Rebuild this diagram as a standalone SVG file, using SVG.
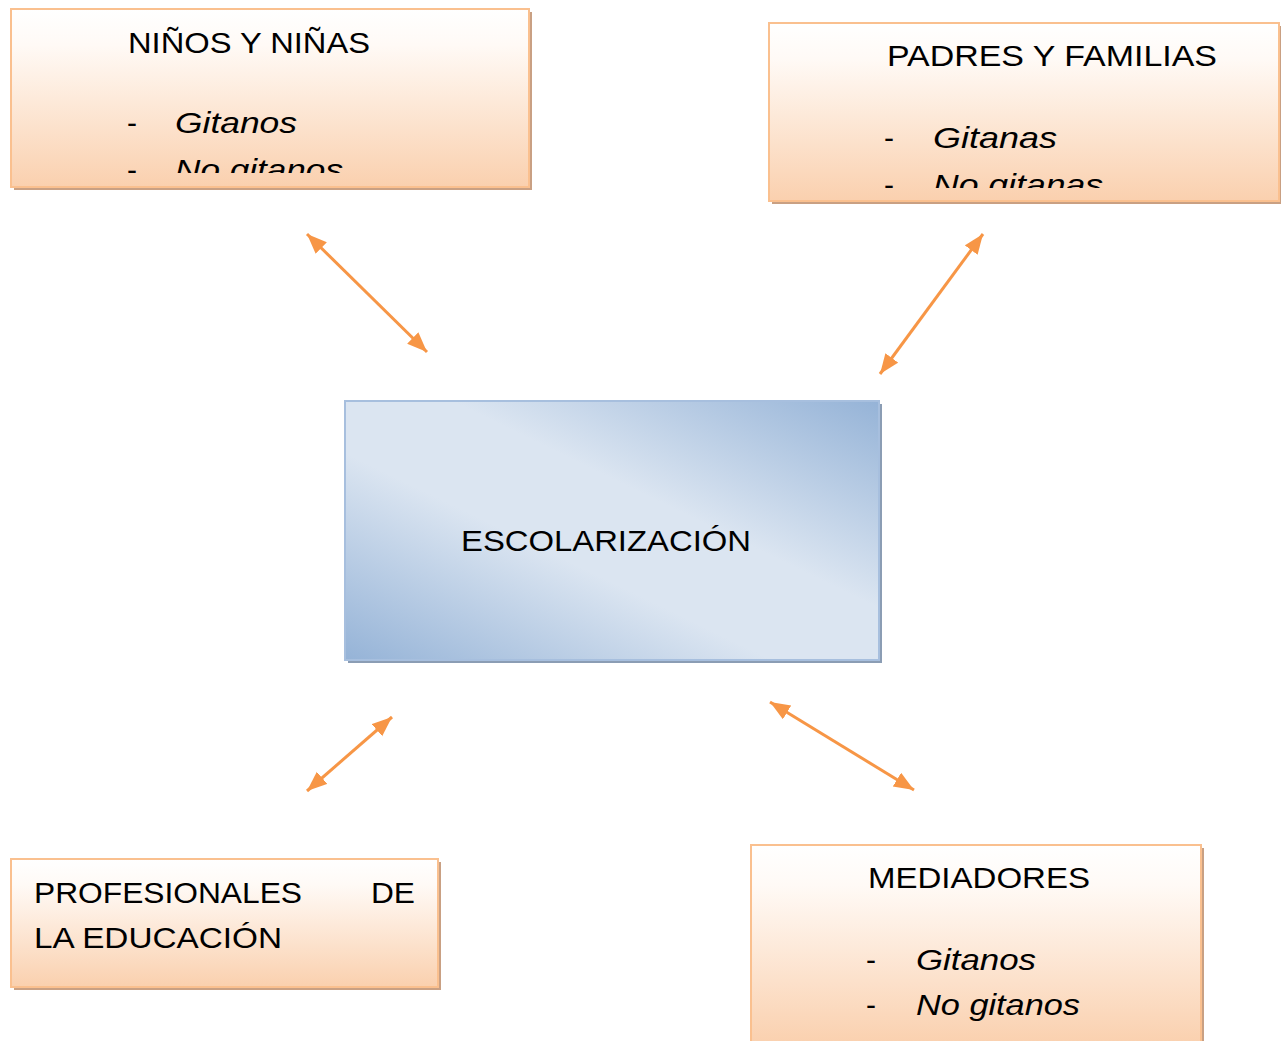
<svg xmlns="http://www.w3.org/2000/svg" width="1281" height="1041" viewBox="0 0 1281 1041">
<style>
.box{fill:url(#orange);stroke:#fac08f;stroke-width:2}
.shadow-o{fill:#c9a083}
.t{font-family:"Liberation Sans","DejaVu Sans",sans-serif;font-size:30px;fill:#000}
.it{font-family:"Liberation Sans","DejaVu Sans",sans-serif;font-style:italic;font-size:30px;fill:#000}
.conn{stroke:#f79646;stroke-width:3;fill:none;marker-start:url(#ah);marker-end:url(#ah)}
</style>
<defs>
<linearGradient id="orange" x1="0" y1="0" x2="0" y2="1">
<stop offset="0" stop-color="#ffffff"/>
<stop offset="0.2" stop-color="#fffaf6"/>
<stop offset="1" stop-color="#fad0ae"/>
</linearGradient>
<linearGradient id="blue" x1="0" y1="1" x2="1" y2="0">
<stop offset="0" stop-color="#95b3d7"/>
<stop offset="0.4" stop-color="#dbe5f1"/>
<stop offset="0.6" stop-color="#dbe5f1"/>
<stop offset="1" stop-color="#95b3d7"/>
</linearGradient>
<marker id="ah" markerUnits="userSpaceOnUse" markerWidth="22" markerHeight="18" refX="20" refY="8" orient="auto-start-reverse" viewBox="0 0 22 18">
<path d="M0,0 L20,8 L0,16 z" fill="#f79646"/>
</marker>
<clipPath id="c1"><rect x="11" y="9" width="518" height="164"/></clipPath>
<clipPath id="c2"><rect x="769" y="23" width="510" height="165"/></clipPath>
</defs>

<g id="connectors">
<line class="conn" x1="307" y1="234" x2="427" y2="352"/>
<line class="conn" x1="983" y1="234" x2="880" y2="374"/>
<line class="conn" x1="392" y1="717" x2="307" y2="791"/>
<line class="conn" x1="770" y1="702" x2="914" y2="790"/>
</g>

<g id="ninos">
<rect class="shadow-o" x="14" y="12" width="518" height="178"/>
<rect class="box" x="11" y="9" width="518" height="178"/>
<g clip-path="url(#c1)">
<text class="t" x="128" y="53" textLength="242" lengthAdjust="spacingAndGlyphs">NIÑOS Y NIÑAS</text>
<text class="t" x="127" y="133">-</text>
<text class="it" x="175" y="133" textLength="122" lengthAdjust="spacingAndGlyphs">Gitanos</text>
<text class="t" x="127" y="180">-</text>
<text class="it" x="175" y="180" textLength="168" lengthAdjust="spacingAndGlyphs">No gitanos</text>
</g>
</g>

<g id="padres">
<rect class="shadow-o" x="772" y="26" width="510" height="178"/>
<rect class="box" x="769" y="23" width="510" height="178"/>
<g clip-path="url(#c2)">
<text class="t" x="887" y="66" textLength="330" lengthAdjust="spacingAndGlyphs">PADRES Y FAMILIAS</text>
<text class="t" x="884" y="148">-</text>
<text class="it" x="933" y="148" textLength="124" lengthAdjust="spacingAndGlyphs">Gitanas</text>
<text class="t" x="884" y="195">-</text>
<text class="it" x="933" y="195" textLength="170" lengthAdjust="spacingAndGlyphs">No gitanas</text>
</g>
</g>

<g id="escolarizacion">
<rect x="348" y="404" width="534" height="259" fill="#8b9db4"/>
<rect x="345" y="401" width="534" height="259" fill="url(#blue)" stroke="#a7bfde" stroke-width="2"/>
<text class="t" x="461" y="551" textLength="290" lengthAdjust="spacingAndGlyphs">ESCOLARIZACIÓN</text>
</g>

<g id="profesionales">
<rect class="shadow-o" x="14" y="862" width="427" height="128"/>
<rect class="box" x="11" y="859" width="427" height="128"/>
<text class="t" x="34" y="903" textLength="268" lengthAdjust="spacingAndGlyphs">PROFESIONALES</text>
<text class="t" x="371" y="903" textLength="44" lengthAdjust="spacingAndGlyphs">DE</text>
<text class="t" x="34" y="948" textLength="248" lengthAdjust="spacingAndGlyphs">LA EDUCACIÓN</text>
</g>

<g id="mediadores">
<rect class="shadow-o" x="754" y="848" width="450" height="200"/>
<rect class="box" x="751" y="845" width="450" height="200"/>
<text class="t" x="868" y="888" textLength="222" lengthAdjust="spacingAndGlyphs">MEDIADORES</text>
<text class="t" x="866" y="970">-</text>
<text class="it" x="916" y="970" textLength="120" lengthAdjust="spacingAndGlyphs">Gitanos</text>
<text class="t" x="866" y="1015">-</text>
<text class="it" x="916" y="1015" textLength="164" lengthAdjust="spacingAndGlyphs">No gitanos</text>
</g>
</svg>
